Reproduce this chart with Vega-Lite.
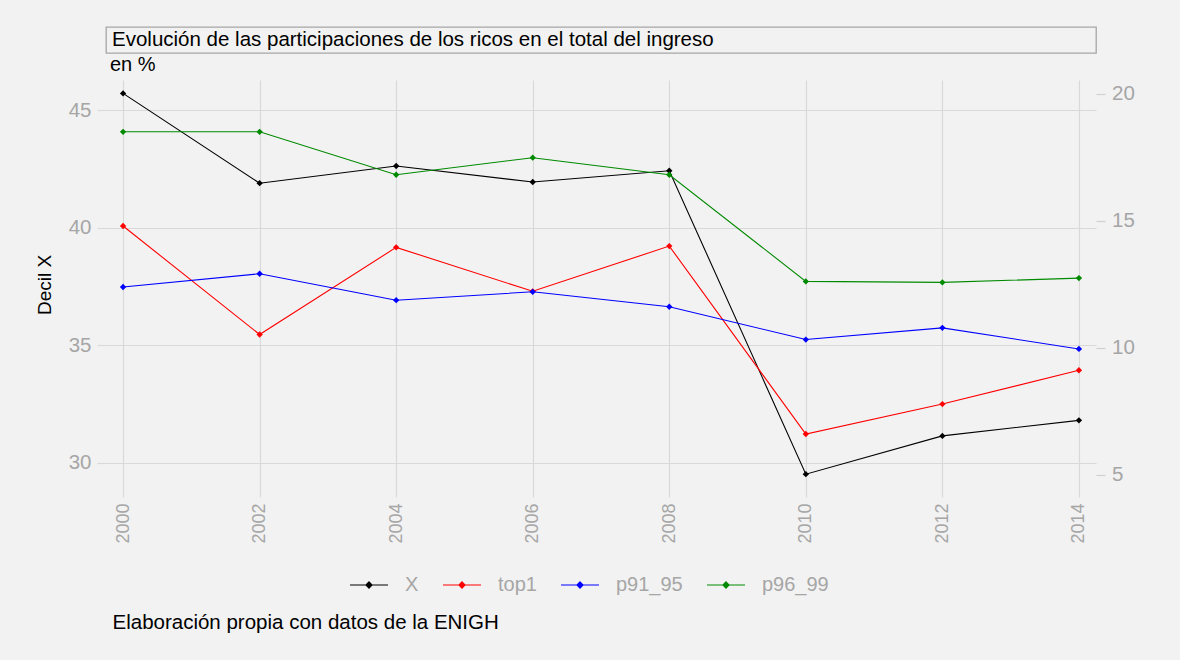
{
  "$schema": "https://vega.github.io/schema/vega-lite/v6.json",
  "autosize": {"type": "none"},
  "padding": {"left": 106, "top": 27, "right": 1074, "bottom": 633},
  "background": "#f2f2f2",
  "config": {"font": "Liberation Sans", "view": {"stroke": null}},
  "spacing": 27,
  "bounds": "flush",
  "vconcat": [
    {
      "width": 990,
      "height": 26,
      "view": {"stroke": "#a6a6a6", "strokeWidth": 1.3},
      "title": {
        "text": "Evolución de las participaciones de los ricos en el total del ingreso",
        "anchor": "start",
        "frame": "group",
        "offset": -39,
        "baseline": "alphabetic",
        "dx": 6,
        "fontSize": 20.5,
        "fontWeight": "normal",
        "color": "#000000"
      },
      "data": {"values": []},
      "mark": "text"
    },
    {
      "width": 990,
      "height": 417,
      "data": {
        "values": [
          {"anio": 2000, "serie": "X", "valor": 45.71},
          {"anio": 2002, "serie": "X", "valor": 41.89},
          {"anio": 2004, "serie": "X", "valor": 42.62},
          {"anio": 2006, "serie": "X", "valor": 41.94},
          {"anio": 2008, "serie": "X", "valor": 42.42},
          {"anio": 2010, "serie": "X", "valor": 29.51},
          {"anio": 2012, "serie": "X", "valor": 31.14},
          {"anio": 2014, "serie": "X", "valor": 31.80},
          {"anio": 2000, "serie": "top1", "valor": 14.80},
          {"anio": 2002, "serie": "top1", "valor": 10.53},
          {"anio": 2004, "serie": "top1", "valor": 13.96},
          {"anio": 2006, "serie": "top1", "valor": 12.23},
          {"anio": 2008, "serie": "top1", "valor": 14.01},
          {"anio": 2010, "serie": "top1", "valor": 6.61},
          {"anio": 2012, "serie": "top1", "valor": 7.79},
          {"anio": 2014, "serie": "top1", "valor": 9.12},
          {"anio": 2000, "serie": "p91_95", "valor": 12.40},
          {"anio": 2002, "serie": "p91_95", "valor": 12.92},
          {"anio": 2004, "serie": "p91_95", "valor": 11.88},
          {"anio": 2006, "serie": "p91_95", "valor": 12.21},
          {"anio": 2008, "serie": "p91_95", "valor": 11.62},
          {"anio": 2010, "serie": "p91_95", "valor": 10.33},
          {"anio": 2012, "serie": "p91_95", "valor": 10.79},
          {"anio": 2014, "serie": "p91_95", "valor": 9.96},
          {"anio": 2000, "serie": "p96_99", "valor": 18.51},
          {"anio": 2002, "serie": "p96_99", "valor": 18.51},
          {"anio": 2004, "serie": "p96_99", "valor": 16.82},
          {"anio": 2006, "serie": "p96_99", "valor": 17.49},
          {"anio": 2008, "serie": "p96_99", "valor": 16.82},
          {"anio": 2010, "serie": "p96_99", "valor": 12.62},
          {"anio": 2012, "serie": "p96_99", "valor": 12.58},
          {"anio": 2014, "serie": "p96_99", "valor": 12.75}
        ]
      },
      "title": {
        "text": "en %",
        "anchor": "start",
        "frame": "group",
        "offset": -11,
        "baseline": "alphabetic",
        "dx": 4,
        "fontSize": 20,
        "fontWeight": "normal",
        "color": "#000000"
      },
      "encoding": {
        "x": {
          "field": "anio",
          "type": "quantitative",
          "scale": {"domain": [1999.75, 2014.25], "nice": false, "zero": false},
          "axis": {
            "values": [2000, 2002, 2004, 2006, 2008, 2010, 2012, 2014],
            "format": "d",
            "labelAngle": -90,
            "labelAlign": "right",
            "labelBaseline": "middle",
            "labelPadding": 6,
            "labelFontSize": 18,
            "labelColor": "#a6a6a6",
            "labelFlush": false,
            "labelOverlap": false,
            "grid": true,
            "gridColor": "#d9d9d9",
            "gridWidth": 1.2,
            "ticks": false,
            "domain": false,
            "title": "Elaboración propia con datos de la ENIGH",
            "titleAnchor": "start",
            "titleAlign": "left",
            "titleX": 6,
            "titleY": 131,
            "titleBaseline": "alphabetic",
            "titleFontSize": 20.5,
            "titleFontWeight": "normal",
            "titleColor": "#000000"
          }
        },
        "color": {
          "field": "serie",
          "type": "nominal",
          "scale": {
            "domain": ["X", "top1", "p91_95", "p96_99"],
            "range": ["#000000", "#ff0000", "#0000ff", "#008a00"]
          },
          "legend": {
            "orient": "none",
            "legendX": 243,
            "legendY": 538,
            "direction": "horizontal",
            "columns": 4,
            "title": null,
            "padding": 0,
            "symbolType": "M-1,0H1M0,-0.16L0.16,0L0,0.16L-0.16,0Z",
            "symbolSize": 1444,
            "symbolStrokeWidth": 1.2,
            "symbolOpacity": 1,
            "labelFontSize": 20,
            "labelColor": "#a6a6a6",
            "labelOffset": 16,
            "columnPadding": 21,
            "encode": {
              "symbols": {
                "update": {
                  "fill": {"scale": "color", "field": "value"},
                  "stroke": {"scale": "color", "field": "value"}
                }
              }
            }
          }
        }
      },
      "layer": [
        {
          "transform": [{"filter": "datum.serie === 'X'"}],
          "mark": {
            "type": "line",
            "strokeWidth": 1.1,
            "point": {"shape": "diamond", "size": 40, "filled": true, "opacity": 1}
          },
          "encoding": {
            "y": {
              "field": "valor",
              "type": "quantitative",
              "scale": {"domain": [28.54, 46.28], "nice": false, "zero": false},
              "axis": {
                "orient": "left",
                "values": [30, 35, 40, 45],
                "grid": true,
                "gridColor": "#d9d9d9",
                "gridWidth": 1.2,
                "tickColor": "#d9d9d9",
                "tickSize": 9,
                "tickWidth": 1.2,
                "domain": false,
                "labelColor": "#a6a6a6",
                "labelFontSize": 20.5,
                "labelPadding": 6,
                "title": "Decil X",
                "titleFontSize": 19,
                "titleFontWeight": "normal",
                "titleColor": "#000000",
                "titleX": -56,
                "titleY": 204.5,
                "titleBaseline": "alphabetic"
              }
            }
          }
        },
        {
          "transform": [{"filter": "datum.serie !== 'X'"}],
          "mark": {
            "type": "line",
            "strokeWidth": 1.1,
            "point": {"shape": "diamond", "size": 40, "filled": true, "opacity": 1}
          },
          "encoding": {
            "y": {
              "field": "valor",
              "type": "quantitative",
              "scale": {"domain": [4.13, 20.55], "nice": false, "zero": false},
              "axis": {
                "orient": "right",
                "values": [5, 10, 15, 20],
                "grid": false,
                "tickColor": "#cfcfcf",
                "tickSize": 9,
                "tickWidth": 1.2,
                "domain": false,
                "labelColor": "#a6a6a6",
                "labelFontSize": 20.5,
                "labelPadding": 6.5,
                "title": null
              }
            }
          }
        }
      ],
      "resolve": {"scale": {"y": "independent"}, "axis": {"y": "independent"}}
    }
  ]
}
